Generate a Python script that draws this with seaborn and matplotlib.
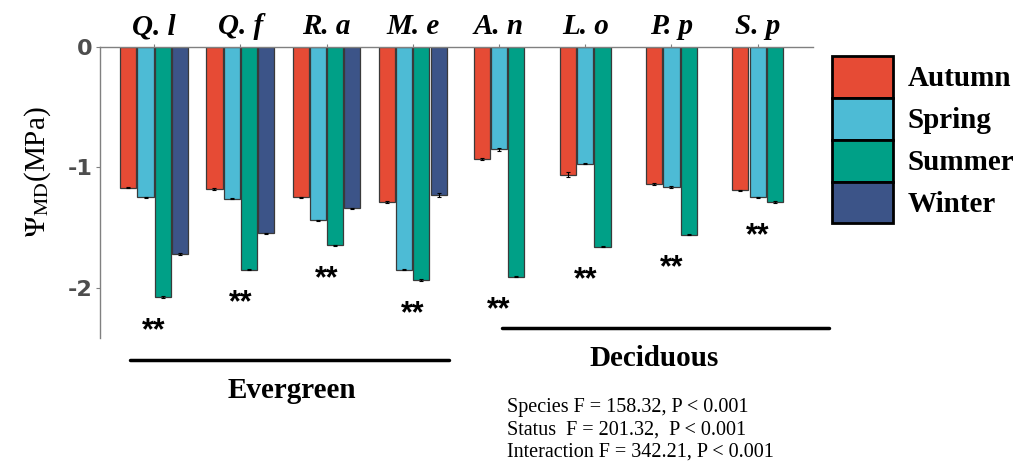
import numpy as np
import pandas as pd
import seaborn as sns
import matplotlib.pyplot as plt
from matplotlib.patches import Patch

# species and leaf habit
species = ["Q. l", "Q. f", "R. a", "M. e", "A. n", "L. o", "P. p", "S. p"]
status = ["Evergreen"] * 4 + ["Deciduous"] * 4
seasons = ["Autumn", "Spring", "Summer", "Winter"]
colors = ["#E64B35", "#4DBBD5", "#00A087", "#3C5488"]

# midday water potential (MPa)
autumn = [-1.17, -1.18, -1.25, -1.29, -0.93, -1.06, -1.14, -1.19]
spring = [-1.25, -1.26, -1.44, -1.85, -0.85, -0.97, -1.16, -1.25]
summer = [-2.08, -1.85, -1.65, -1.94, -1.91, -1.66, -1.56, -1.29]
winter = [-1.72, -1.55, -1.34, -1.23]  # evergreen species only

autumn_se = [0.005, 0.006, 0.006, 0.006, 0.006, 0.02, 0.006, 0.005]
spring_se = [0.006, 0.006, 0.006, 0.006, 0.01, 0.006, 0.008, 0.005]
summer_se = [0.008, 0.008, 0.006, 0.008, 0.006, 0.006, 0.006, 0.006]
winter_se = [0.006, 0.006, 0.005, 0.02]

stats_lines = ["Species F = 158.32, P < 0.001",
               "Status  F = 201.32,  P < 0.001",
               "Interaction F = 342.21, P < 0.001"]

rows = []
for season, vals, ses in [("Autumn", autumn, autumn_se), ("Spring", spring, spring_se),
                          ("Summer", summer, summer_se), ("Winter", winter, winter_se)]:
    for sp, st, v, e in zip(species, status, vals, ses):
        rows.append(dict(species=sp, status=st, season=season, value=v, se=e))
df = pd.DataFrame(rows)

sns.set_style("white")
plt.rcParams["mathtext.fontset"] = "stix"
plt.rcParams["text.color"] = "black"
plt.rcParams["axes.labelcolor"] = "black"
serif = "Liberation Serif"

fig = plt.figure(figsize=(10.29, 4.63), dpi=100)
ax = fig.add_axes([0.097, 0.270, 0.693, 0.628])

bar_kw = dict(x="species", y="value", hue="season", order=species, errorbar=None,
              edgecolor="#3a3a3a", linewidth=0.9, legend=False, gap=0.07,
              saturation=1, ax=ax)
sns.barplot(data=df[df.status == "Evergreen"], hue_order=seasons, palette=colors,
            width=0.8, **bar_kw)
sns.barplot(data=df[df.status == "Deciduous"], hue_order=seasons[:3], palette=colors[:3],
            width=0.6, **bar_kw)

# small error bars on each bar
for p in list(ax.patches):
    cx = p.get_x() + p.get_width() / 2
    val = p.get_y() + p.get_height()
    sub = df[df.species == species[int(round(cx))]]
    row = sub.iloc[(sub.value - val).abs().argmin()]
    ax.errorbar(cx, val, yerr=row.se, color="black", lw=0.8, capsize=1.5, capthick=0.8)

ax.set_xlim(-0.63, 7.64)
ax.set_ylim(-2.42, 0)
ax.set_yticks([0, -1, -2])
ax.set_yticklabels(["0", "-1", "-2"], fontsize=16, fontweight="bold", color="#4D4D4D")
ax.tick_params(axis="y", length=3, width=0.8, color="#808080", pad=2, left=True)

ax.xaxis.tick_top()
ax.set_xlabel("")
ax.set_xticks(range(len(species)))
ax.set_xticklabels(species, fontsize=21, fontweight="bold", fontstyle="italic",
                   family=serif, color="black")
ax.tick_params(axis="x", length=2, color="#808080", pad=3, top=True)

for s in ["bottom", "right"]:
    ax.spines[s].set_visible(False)
for s in ["top", "left"]:
    ax.spines[s].set_color("#808080")
    ax.spines[s].set_linewidth(1.0)

ax.set_ylabel(r"$\Psi_{\mathrm{MD}}$(MPa)", family=serif, fontsize=21)
ax.yaxis.set_label_coords(-0.066, 0.57)

# significance stars under each species
for i, sp in enumerate(species):
    low = df[df.species == sp].value.min()
    ax.text(i, low - 0.28, "**", ha="center", va="center", fontsize=22, fontweight="bold",
            family="Liberation Sans", clip_on=False)

# habit group lines and labels
ax.plot([-0.28, 3.42], [-2.60, -2.60], color="black", lw=2.5, clip_on=False)
ax.plot([4.03, 7.83], [-2.34, -2.34], color="black", lw=2.5, clip_on=False)
ax.text(1.6, -2.86, "Evergreen", ha="center", va="center", fontsize=21,
        fontweight="bold", family=serif, clip_on=False)
ax.text(5.8, -2.59, "Deciduous", ha="center", va="center", fontsize=21,
        fontweight="bold", family=serif, clip_on=False)

fig.text(0.493, 1 - 398 / 463, "\n".join(stats_lines), ha="left", va="top",
         fontsize=14.5, family=serif, linespacing=1.22)

handles = [Patch(facecolor=c, edgecolor="black", linewidth=2, label=s)
           for s, c in zip(seasons, colors)]
fig.legend(handles=handles, loc="upper left", bbox_to_anchor=(832 / 1029, 1 - 56 / 463),
           frameon=False, prop=dict(family=serif, weight="bold", size=21),
           handlelength=2.1, handleheight=1.83, labelspacing=0.0, handletextpad=0.5,
           borderpad=0, borderaxespad=0)

fig.savefig("out.png", dpi=100)
